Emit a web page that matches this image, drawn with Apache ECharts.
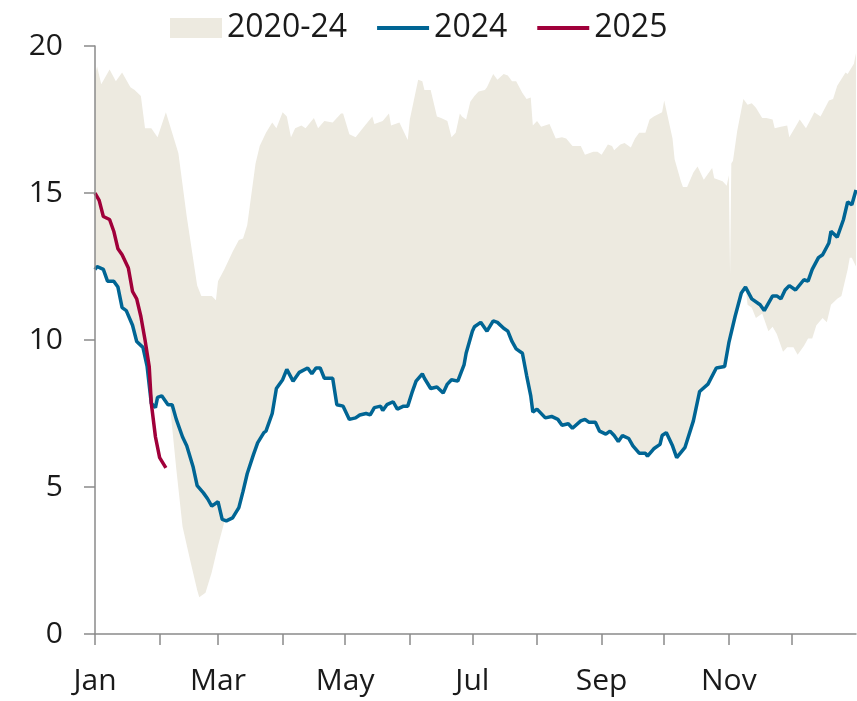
<!DOCTYPE html>
<html>
<head>
<meta charset="utf-8">
<script src="https://cdn.jsdelivr.net/npm/echarts@6/dist/echarts.min.js"></script>
<style>
  html, body { margin: 0; padding: 0; background: #fff; }
  #chart { width: 857px; height: 701px; }
</style>
</head>
<body>
<div id="chart"></div>
<script>
// x = day of year (0 = 1 Jan, 365 = end of Dec)
const monthStarts = [0, 31, 59, 90, 120, 151, 181, 212, 243, 273, 304, 334];
const monthLabels = ['Jan', '', 'Mar', '', 'May', '', 'Jul', '', 'Sep', '', 'Nov', ''];

// 2020-24 range, top edge
const rangeHigh = [
  [0, 19.0], [1, 19.3], [3, 18.7], [7, 19.2], [10, 18.8], [13, 19.1], [17, 18.6],
  [19, 18.5], [22, 18.3], [24, 17.2], [27, 17.2], [30, 16.9], [34, 17.75], [37, 17.05],
  [40, 16.35], [44, 14.2], [49, 11.85], [51, 11.5], [56, 11.5], [58, 11.35], [59, 12.0],
  [62, 12.4], [66, 13.0], [69, 13.4], [71, 13.45], [73, 13.9], [77, 16.0], [79, 16.6],
  [82, 17.05], [85, 17.4], [87, 17.2], [90, 17.75], [92, 17.6], [94, 16.9], [96, 17.2],
  [99, 17.3], [101, 17.2], [105, 17.55], [107, 17.2], [110, 17.45], [114, 17.4],
  [118, 17.7], [119, 17.7], [122, 17.0], [125, 16.9], [129, 17.25], [133, 17.6],
  [134, 17.35], [138, 17.45], [141, 17.7], [142, 17.3], [146, 17.4], [150, 16.8],
  [151, 17.5], [155, 18.85], [157, 18.8], [158, 18.5], [161, 18.5], [164, 17.6],
  [166, 17.55], [169, 17.45], [171, 16.9], [173, 17.05], [175, 17.7], [176, 17.6],
  [178, 17.5], [180, 18.1], [182, 18.3], [184, 18.45], [187, 18.5], [188, 18.6],
  [191, 19.05], [193, 18.85], [196, 19.05], [198, 19.0], [200, 18.8], [202, 18.8],
  [205, 18.4], [207, 18.2], [209, 18.25], [210, 17.3], [212, 17.45], [214, 17.25],
  [218, 17.35], [221, 16.85], [224, 16.9], [226, 16.85], [229, 16.6], [233, 16.6],
  [235, 16.3], [239, 16.4], [241, 16.4], [243, 16.3], [246, 16.65], [248, 16.6],
  [249, 16.45], [252, 16.65], [254, 16.7], [257, 16.55], [259, 16.85], [261, 17.05],
  [264, 17.05], [266, 17.5], [268, 17.6], [272, 17.75], [273, 18.15], [275, 17.5],
  [277, 16.85], [278, 16.15], [281, 15.4], [282, 15.2], [284, 15.2], [287, 15.7],
  [289, 15.9], [292, 15.45], [296, 15.85], [297, 15.5], [301, 15.4], [303, 15.25],
  [304, 15.6], [304.6, 12.2], [305.2, 16.0], [306, 16.1], [308, 17.1], [311, 18.2],
  [313, 18.0], [315, 18.05], [317, 17.9], [320, 17.55], [322, 17.55], [325, 17.5],
  [326, 17.2], [329, 17.25], [332, 17.3], [333, 16.9], [336, 17.25], [338, 17.5],
  [341, 17.2], [344, 17.6], [345, 17.75], [348, 17.6], [352, 18.15], [354, 18.2],
  [356, 18.65], [360, 19.1], [361, 19.05], [364, 19.4], [365, 19.75]
];

// 2020-24 range, bottom edge where it leaves the 2024 line
const rangeLowFeb = [
  [36, 7.75], [39, 5.6], [42, 3.65], [46, 2.4], [49, 1.5], [50, 1.25], [53, 1.4],
  [56, 2.1], [59, 3.0], [62, 3.8]
];
const rangeLowDec = [
  [313, 11.2], [315, 11.1], [317, 10.75], [319, 10.85], [320, 10.9], [323, 10.3],
  [325, 10.45], [327, 10.2], [330, 9.6], [332, 9.75], [335, 9.75], [337, 9.5],
  [340, 9.8], [342, 10.05], [344, 10.05], [346, 10.5], [349, 10.75], [351, 10.6],
  [353, 11.2], [356, 11.4], [358, 11.5], [361, 12.4], [362, 12.8], [363, 12.8], [365, 12.5]
];

const line2024 = [
  [0, 12.4], [1, 12.5], [4, 12.4], [6, 12.0], [9, 12.0], [11, 11.8], [13, 11.1],
  [15, 11.0], [18, 10.5], [20, 9.95], [23, 9.75], [25, 9.1], [27, 7.85], [29, 7.7],
  [30, 8.05], [32, 8.1], [35, 7.8], [37, 7.8], [39, 7.3], [42, 6.7], [44, 6.4],
  [47, 5.7], [49, 5.05], [52, 4.8], [54, 4.6], [56, 4.35], [59, 4.5], [61, 3.9],
  [63, 3.85], [66, 3.95], [69, 4.3], [71, 4.85], [73, 5.45], [76, 6.1], [78, 6.5],
  [81, 6.85], [82, 6.9], [85, 7.5], [87, 8.35], [90, 8.65], [92, 9.0], [95, 8.6],
  [98, 8.9], [102, 9.05], [104, 8.85], [106, 9.05], [108, 9.05], [110, 8.7],
  [114, 8.7], [116, 7.8], [119, 7.75], [122, 7.3], [125, 7.35], [127, 7.45],
  [130, 7.5], [132, 7.45], [134, 7.7], [137, 7.75], [138, 7.6], [140, 7.8],
  [143, 7.9], [145, 7.65], [148, 7.75], [150, 7.75], [152, 8.2], [154, 8.6],
  [157, 8.85], [158, 8.7], [161, 8.35], [164, 8.4], [167, 8.2], [169, 8.5],
  [171, 8.65], [174, 8.6], [177, 9.15], [178, 9.55], [181, 10.3], [182, 10.45],
  [185, 10.6], [188, 10.3], [191, 10.65], [193, 10.6], [196, 10.4], [198, 10.3],
  [200, 9.95], [202, 9.7], [205, 9.55], [207, 8.8], [209, 8.1], [210, 7.55],
  [212, 7.65], [216, 7.35], [219, 7.4], [222, 7.3], [224, 7.1], [227, 7.15],
  [229, 7.0], [233, 7.25], [235, 7.3], [237, 7.2], [240, 7.2], [242, 6.9],
  [245, 6.8], [247, 6.9], [249, 6.75], [251, 6.55], [253, 6.75], [256, 6.65],
  [258, 6.4], [261, 6.15], [264, 6.15], [265, 6.05], [268, 6.3], [271, 6.45],
  [272, 6.75], [274, 6.85], [277, 6.4], [279, 6.0], [283, 6.35], [287, 7.25],
  [290, 8.25], [294, 8.5], [298, 9.05], [302, 9.1], [304, 9.9], [307, 10.8],
  [310, 11.6], [312, 11.8], [315, 11.4], [319, 11.2], [321, 11.0], [325, 11.5],
  [327, 11.5], [329, 11.4], [331, 11.7], [333, 11.85], [336, 11.7], [340, 12.05],
  [342, 12.0], [344, 12.4], [347, 12.8], [349, 12.9], [352, 13.3], [353, 13.7],
  [356, 13.5], [359, 14.1], [361, 14.7], [363, 14.6], [365, 15.1]
];

const line2025 = [
  [0, 15.0], [2, 14.75], [4, 14.2], [7, 14.1], [9, 13.7], [11, 13.1], [13, 12.9],
  [16, 12.45], [18, 11.65], [20, 11.4], [22, 10.8], [24, 10.0], [26, 9.1],
  [27, 7.85], [29, 6.7], [31, 6.0], [34, 5.65]
];

// lower edge: follows the 2024 line except in Feb-Mar and Nov-Dec
const rangeLow = line2024
  .filter(p => p[0] <= 35 || (p[0] >= 63 && p[0] <= 312))
  .concat(rangeLowFeb, rangeLowDec)
  .sort((a, b) => a[0] - b[0]);

const dayCats = [];
for (let i = 0; i <= 365; i++) {
  const m = monthStarts.indexOf(i);
  dayCats.push(m >= 0 ? monthLabels[m] : '');
}

const font = '"Open Sans", "Noto Sans", sans-serif';
const ink = '#1a1a1a';
const axisGrey = '#8a8a8a';
const bandColor = '#edeae0';
const blue = '#006594';
const red = '#a0003a';
const lineIcon = 'path://M0,0H52V4H0Z';

const chart = echarts.init(document.getElementById('chart'), null, { renderer: 'canvas' });

chart.setOption({
  animation: false,
  backgroundColor: '#fff',
  textStyle: { fontFamily: font, color: ink },
  legend: {
    left: 170,
    top: 12,
    padding: 0,
    itemWidth: 52,
    itemHeight: 20,
    itemGap: 30,
    textStyle: { fontSize: 32, color: ink, fontFamily: font },
    data: [
      { name: '2020-24', icon: 'rect' },
      { name: '2024', icon: lineIcon },
      { name: '2025', icon: lineIcon },
    ],
  },
  grid: { left: 95, right: 1, top: 46, bottom: 67, containLabel: false },
  xAxis: [
    { type: 'value', min: 0, max: 365, show: false },
    {
      type: 'category',
      data: dayCats,
      boundaryGap: false,
      position: 'bottom',
      z: 10,
      axisLine: { lineStyle: { color: axisGrey, width: 1.5 } },
      axisTick: {
        interval: (i) => monthStarts.includes(i),
        length: 11,
        lineStyle: { color: axisGrey, width: 1.5 },
      },
      axisLabel: {
        interval: (i) => monthStarts.includes(i) && dayCats[i] !== '',
        fontSize: 30,
        color: ink,
        margin: 32,
        fontFamily: font,
      },
    },
  ],
  yAxis: {
    type: 'value',
    min: 0,
    max: 20,
    interval: 5,
    z: 10,
    axisLine: { show: true, lineStyle: { color: axisGrey, width: 1.5 } },
    axisTick: { show: true, length: 11, lineStyle: { color: axisGrey, width: 1.5 } },
    splitLine: { show: false },
    axisLabel: { fontSize: 30, color: ink, margin: 32, fontFamily: font },
  },
  series: [
    {
      name: '2020-24',
      type: 'line',
      xAxisIndex: 0,
      data: rangeHigh,
      symbol: 'none',
      z: 1,
      lineStyle: { width: 0 },
      itemStyle: { color: bandColor },
      areaStyle: { color: bandColor, opacity: 1 },
    },
    {
      name: 'rangeMask',
      type: 'line',
      xAxisIndex: 0,
      data: rangeLow,
      symbol: 'none',
      z: 2,
      silent: true,
      lineStyle: { width: 0 },
      itemStyle: { color: '#fff' },
      areaStyle: { color: '#fff', opacity: 1 },
    },
    {
      name: '2024',
      type: 'line',
      xAxisIndex: 0,
      data: line2024,
      symbol: 'none',
      z: 3,
      lineStyle: { width: 3.5, color: blue },
      itemStyle: { color: blue },
    },
    {
      name: '2025',
      type: 'line',
      xAxisIndex: 0,
      data: line2025,
      symbol: 'none',
      z: 4,
      lineStyle: { width: 3.5, color: red },
      itemStyle: { color: red },
    },
  ],
});
</script>
</body>
</html>
